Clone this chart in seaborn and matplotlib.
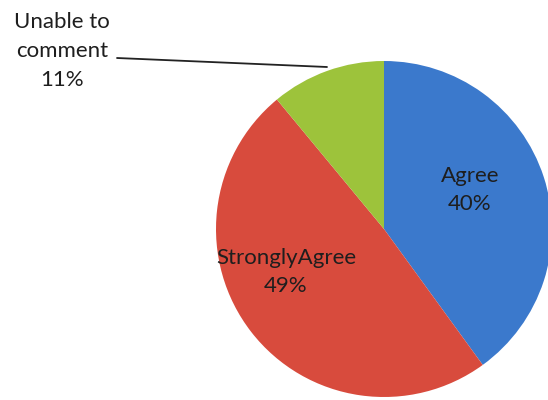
import matplotlib
matplotlib.use("Agg")
import matplotlib.pyplot as plt
import seaborn as sns

# survey responses (percent)
labels = ["Agree", "StronglyAgree", "Unable to\ncomment"]
shares = [40, 49, 11]
colors = ["#3b79cc", "#d84b3d", "#9dc33b"]

sns.set_theme(style="white")
plt.rcParams["font.family"] = ["Lato", "DejaVu Sans"]

fig = plt.figure(figsize=(5.48, 4.0), dpi=100)
ax = fig.add_axes([0, 0, 1, 1])

# pie placed in pixel-like coordinates (y up)
cx, cy, r = 384, 171, 168
wedges, _ = ax.pie(shares, colors=colors, startangle=90, counterclock=False,
                   center=(cx, cy), radius=r, frame=True,
                   wedgeprops={"linewidth": 0})

txt = dict(ha="center", va="center", fontsize=16, color="#1e1e1e", linespacing=1.55)
ax.text(470, 400 - 190, f"{labels[0]}\n{shares[0]}%", **txt)
ax.text(286, 400 - 272, f"{labels[1]}\n{shares[1]}%", **txt)
ax.text(62, 400 - 51, f"{labels[2]}\n{shares[2]}%", **txt)

# leader line for the small slice
ax.plot([117, 327], [400 - 58, 400 - 67], color="#222222", lw=1.3)

ax.set_xlim(0, 548)
ax.set_ylim(0, 400)
ax.set_aspect("equal")
ax.axis("off")

fig.savefig("out.png", dpi=100, facecolor="white")
